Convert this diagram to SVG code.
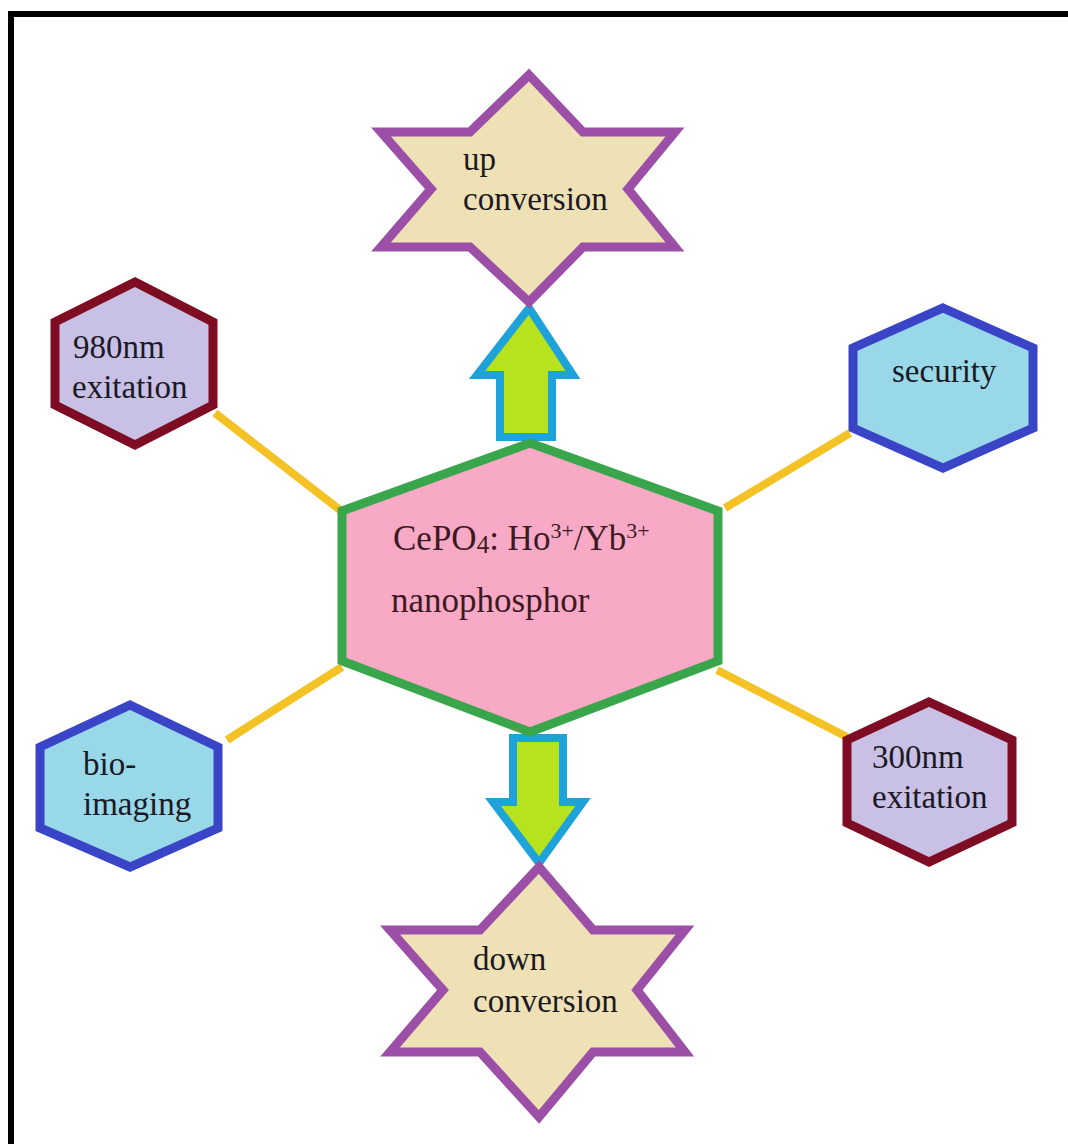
<svg xmlns="http://www.w3.org/2000/svg" width="1068" height="1144" viewBox="0 0 1068 1144">
<style>
.star{fill:#efe1b6;stroke:#9c4fa6;stroke-width:9;stroke-linejoin:miter}
.hexr{fill:#c9c0e6;stroke:#7e0c22;stroke-width:9}
.hexb{fill:#98d8e8;stroke:#3a44c6;stroke-width:9}
.hexc{fill:#f8a9c6;stroke:#3aa64b;stroke-width:9}
.arrow{fill:#b6e31e;stroke:#1ea2da;stroke-width:8}
.link{stroke:#f4c224;stroke-width:8;fill:none}
text{font-family:"Liberation Serif","Times New Roman",serif;font-size:33px;fill:#1b1a24}
.ct{fill:#3b1a22;font-size:35px}
</style>
<rect width="1068" height="1144" fill="#ffffff"/>
<path d="M11 1144 V14 H1068" fill="none" stroke="#000" stroke-width="6"/>
<g id="connectors">
<line class="link" x1="215" y1="413" x2="340" y2="510"/>
<line class="link" x1="850" y1="433" x2="725" y2="508"/>
<line class="link" x1="227" y1="740" x2="342" y2="667"/>
<line class="link" x1="717" y1="670" x2="847" y2="737"/>
<path id="arrow-up" class="arrow" d="M529 308 L573 375 L552 375 L552 437 L500 437 L500 375 L477 375 Z"/>
<path id="arrow-down" class="arrow" d="M513 738 L563 738 L563 802 L583 802 L539 863 L493 802 L513 802 Z"/>
</g>
<g id="center">
<polygon class="hexc" points="530,443 718,511 718,661 530,732 342,661 342,511"/>
<text class="ct" x="393" y="550">CePO<tspan font-size="25" dy="3">4</tspan><tspan dy="-3">: Ho</tspan><tspan font-size="22" dy="-12">3+</tspan><tspan dy="12">/Yb</tspan><tspan font-size="22" dy="-12">3+</tspan></text>
<text class="ct" x="391" y="612">nanophosphor</text>
</g>
<g id="up-conversion">
<polygon class="star" points="529,75 583,132 675,132 628,189 675,247 583,247 529,302 470,247 381,247 431,189 381,132 470,132"/>
<text x="463" y="170">up</text>
<text x="463" y="210">conversion</text>
</g>
<g id="down-conversion">
<polygon class="star" points="539,867 593,930 685,930 637,990 685,1052 593,1052 539,1117 480,1052 390,1052 443,990 390,930 480,930"/>
<text x="473" y="970">down</text>
<text x="473" y="1012">conversion</text>
</g>
<g id="exc-980">
<polygon class="hexr" points="135,282 213,322 213,405 135,445 55,405 55,322"/>
<text x="73" y="358">980nm</text>
<text x="72" y="398">exitation</text>
</g>
<g id="security">
<polygon class="hexb" points="943,308 1033,348 1033,428 943,468 853,428 853,348"/>
<text x="892" y="382">security</text>
</g>
<g id="bio-imaging">
<polygon class="hexb" points="130,705 218,747 218,828 130,867 40,828 40,747"/>
<text x="83" y="775">bio-</text>
<text x="83" y="815">imaging</text>
</g>
<g id="exc-300">
<polygon class="hexr" points="929,702 1012,740 1012,823 929,862 847,823 847,740"/>
<text x="872" y="768">300nm</text>
<text x="872" y="808">exitation</text>
</g>
</svg>
